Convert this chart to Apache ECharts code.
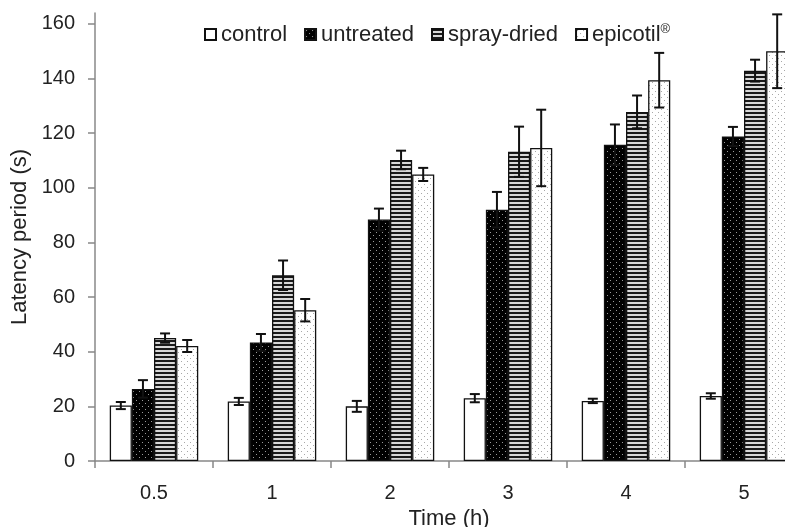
<!DOCTYPE html>
<html>
<head>
<meta charset="utf-8">
<script src="https://cdn.jsdelivr.net/npm/echarts@6/dist/echarts.min.js"></script>
<style>
  html, body { margin: 0; padding: 0; background: #fff; }
  #chart { width: 785px; height: 527px; }
</style>
</head>
<body>
<div id="chart"></div>
<script>
// Time points (h)
const categories = ['0.5', '1', '2', '3', '4', '5'];

// Latency period (s): means and error half-widths per treatment
const control      = [20.3, 21.8, 20.0, 23.0, 22.0, 23.8];
const controlErr   = [1.3, 1.3, 2.0, 1.5, 0.8, 1.0];
const untreated    = [26.4, 43.4, 88.4, 92.0, 115.8, 118.8];
const untreatedErr = [3.2, 3.1, 4.0, 6.5, 7.4, 3.5];
const sprayDried   = [45.0, 68.0, 110.2, 113.2, 127.8, 142.9];
const sprayErr     = [1.7, 5.4, 3.4, 9.2, 6.0, 4.0];
const epicotil     = [42.1, 55.2, 104.9, 114.6, 139.4, 150.0];
const epicotilErr  = [2.2, 4.1, 2.4, 14.0, 10.0, 13.5];

const yTicks = [0, 20, 40, 60, 80, 100, 120, 140, 160];

const seriesNames = ['control', 'untreated', 'spray-dried', 'epicotil'];
const means = [control, untreated, sprayDried, epicotil];
const errs = [controlErr, untreatedErr, sprayErr, epicotilErr];

// Fill textures for the bars
function tile(w, h, draw) {
  const c = document.createElement('canvas');
  c.width = w; c.height = h;
  draw(c.getContext('2d'));
  return { image: c, repeat: 'repeat' };
}
function dots(bg, fg) {
  return tile(6, 6, g => {
    g.fillStyle = bg; g.fillRect(0, 0, 6, 6);
    g.fillStyle = fg;
    g.fillRect(1, 1, 1, 1);
    g.fillRect(4, 4, 1, 1);
  });
}
const stripes = tile(4, 4, g => {
  g.fillStyle = '#d8d8d8'; g.fillRect(0, 0, 4, 4);
  g.fillStyle = '#1a1a1a'; g.fillRect(0, 0, 4, 2);
});
const fills = ['#ffffff', dots('#000000', '#9a9a9a'), stripes, dots('#ffffff', '#a8a8a8')];

const CAT_GAP = 0.25;

const barSeries = seriesNames.map((name, k) => ({
  name,
  type: 'bar',
  data: means[k],
  barGap: '0%',
  barCategoryGap: (CAT_GAP * 100) + '%',
  itemStyle: { color: fills[k], borderColor: '#111', borderWidth: 1.3 },
  z: 2
}));

// Error bars drawn on top of each bar
const errData = [];
means.forEach((arr, k) => arr.forEach((v, i) => errData.push([i, v, errs[k][i], k])));

const errSeries = {
  type: 'custom',
  data: errData,
  z: 5,
  silent: true,
  encode: { x: 0, y: 1 },
  renderItem(params, api) {
    const xi = api.value(0), v = api.value(1), e = api.value(2), k = api.value(3);
    const band = api.size([1, 0])[0];
    const bw = band * (1 - CAT_GAP) / 4;
    const cx = api.coord([xi, v])[0] + (k - 1.5) * bw;
    const yT = api.coord([xi, v + e])[1];
    const yB = api.coord([xi, v - e])[1];
    const cap = 5;
    const st = { stroke: '#111', lineWidth: 2 };
    return {
      type: 'group',
      children: [
        { type: 'line', shape: { x1: cx, y1: yT, x2: cx, y2: yB }, style: st },
        { type: 'line', shape: { x1: cx - cap, y1: yT, x2: cx + cap, y2: yT }, style: st },
        { type: 'line', shape: { x1: cx - cap, y1: yB, x2: cx + cap, y2: yB }, style: st }
      ]
    };
  }
};

const chart = echarts.init(document.getElementById('chart'), null, { renderer: 'canvas' });
chart.setOption({
  animation: false,
  textStyle: { fontFamily: 'Liberation Sans, Arial, sans-serif', color: '#222' },
  grid: { left: 95, right: -18, top: 13, bottom: 66, outerBoundsMode: 'none', containLabel: false },
  legend: {
    data: seriesNames,
    icon: 'rect',
    left: 199,
    top: 18,
    itemGap: 17,
    itemWidth: 11,
    itemHeight: 11,
    selectedMode: false,
    textStyle: {
      fontSize: 22,
      color: '#222',
      rich: { sup: { fontSize: 13, padding: [0, 0, 10, 0], color: '#222' } }
    },
    formatter: name => name === 'epicotil' ? 'epicotil{sup|®}' : name
  },
  xAxis: {
    type: 'category',
    data: categories,
    name: 'Time (h)',
    nameLocation: 'middle',
    nameGap: 44,
    nameTextStyle: { fontSize: 22, color: '#222' },
    axisLine: { lineStyle: { color: '#888', width: 1.5 } },
    axisTick: { show: true, length: 7, lineStyle: { color: '#888', width: 1.5 } },
    axisLabel: { fontSize: 20, color: '#222', margin: 22 }
  },
  yAxis: {
    type: 'value',
    min: 0,
    max: 164,
    interval: 20,
    name: 'Latency period (s)',
    nameLocation: 'middle',
    nameRotate: 90,
    nameGap: 59,
    nameTextStyle: { fontSize: 22, color: '#222' },
    splitLine: { show: false },
    axisLine: { show: true, lineStyle: { color: '#888', width: 1.5 } },
    axisTick: { show: true, length: 7, customValues: yTicks, lineStyle: { color: '#888', width: 1.5 } },
    axisLabel: { fontSize: 20, color: '#222', margin: 20, customValues: yTicks }
  },
  series: [...barSeries, errSeries]
});
</script>
</body>
</html>
